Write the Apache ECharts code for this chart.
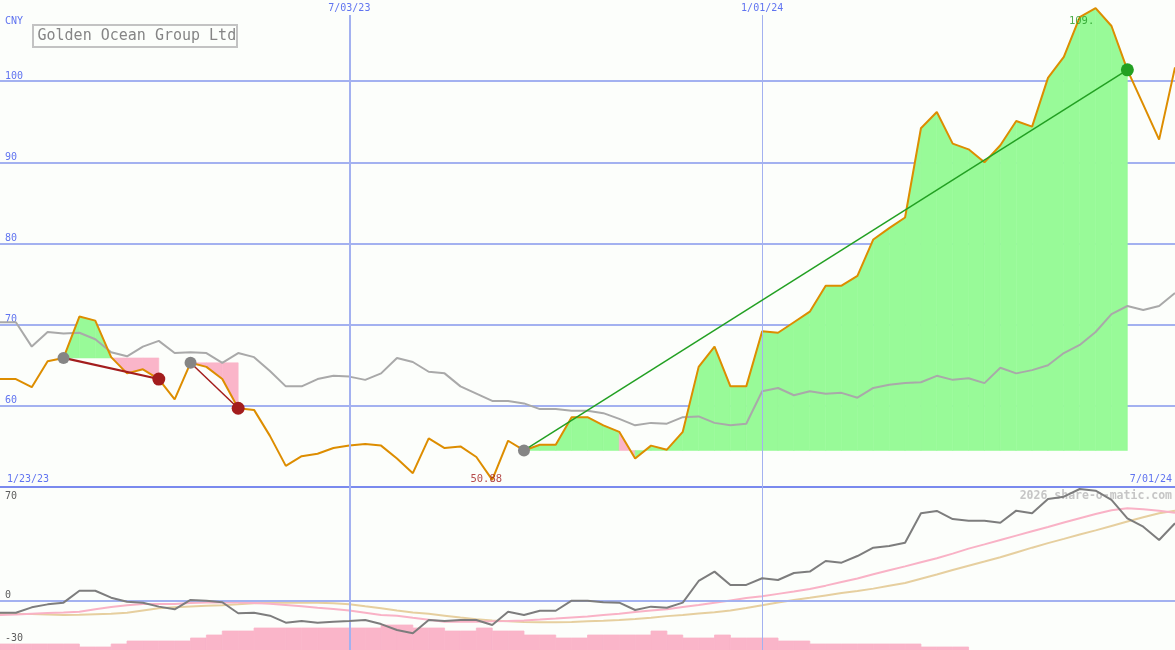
<!DOCTYPE html>
<html><head><meta charset="utf-8">
<script src="https://cdn.jsdelivr.net/npm/echarts@6/dist/echarts.min.js"></script>
<style>html,body{margin:0;padding:0;background:#fcfefb}#c{width:1175px;height:650px}</style>
</head><body><div id="c"></div><script>
// ---- data (weekly points, index 0 .. 74) ----
const price = [63.3,63.3,62.3,65.5,65.9,71.0,70.5,66.0,64.0,64.5,
  63.3,60.8,65.3,64.8,63.3,59.7,59.5,56.3,52.6,53.8,
  54.1,54.8,55.1,55.3,55.1,53.5,51.7,56.0,54.8,55.0,
  53.7,50.88,55.7,54.5,55.2,55.2,58.6,58.6,57.6,56.8,
  53.5,55.1,54.6,56.8,64.8,67.3,62.4,62.4,69.2,69.0,
  70.3,71.6,74.8,74.8,76.0,80.5,81.9,83.2,94.2,96.2,
  92.3,91.6,90.0,92.1,95.1,94.4,100.4,103.0,107.9,109.0,
  106.8,101.4,97.1,92.8,101.7];
const average = [70.3,70.3,67.3,69.1,68.9,69.0,68.2,66.6,66.1,67.3,
  68.0,66.5,66.6,66.5,65.3,66.5,66.0,64.3,62.4,62.4,
  63.3,63.7,63.6,63.2,64.0,65.9,65.4,64.2,64.0,62.4,
  61.5,60.6,60.6,60.3,59.6,59.6,59.4,59.4,59.1,58.4,
  57.6,57.9,57.8,58.6,58.7,57.9,57.6,57.8,61.8,62.2,
  61.3,61.8,61.5,61.6,61.0,62.2,62.6,62.8,62.9,63.7,
  63.2,63.4,62.8,64.7,64.0,64.4,65.0,66.5,67.5,69.1,
  71.3,72.3,71.8,72.3,73.9];
const oscillator = [-8.7,-8.7,-4.9,-2.8,-1.6,6.8,6.8,1.9,-0.9,-1.6,
  -4.4,-6.3,0.3,-0.2,-1.3,-9.1,-8.7,-10.8,-15.7,-14.5,
  -15.7,-15.0,-14.5,-13.8,-16.7,-20.9,-23.2,-13.8,-14.5,-13.8,
  -13.8,-17.4,-8.0,-10.3,-7.3,-7.3,-0.2,-0.2,-1.3,-1.6,
  -6.8,-4.4,-5.2,-1.6,13.7,20.3,10.9,10.9,15.6,14.4,
  19.3,20.3,27.8,26.6,31.3,37.2,38.4,40.7,61.5,63.1,
  57.4,56.2,56.2,54.8,63.3,61.5,71.6,73.2,78.6,77.4,
  70.9,57.9,52.0,42.6,54.4];
const oscFast = [-10.3,-9.9,-9.4,-8.9,-8.5,-8.0,-6.3,-4.6,-3.5,-2.5,
  -2.5,-2.5,-1.8,-1.5,-1.3,-1.4,-1.8,-2.3,-3.2,-4.2,
  -5.2,-6.1,-7.1,-8.7,-10.3,-10.9,-12.3,-13.6,-15.0,-15.0,
  -15.0,-14.8,-14.5,-14.1,-13.5,-12.8,-12.0,-11.3,-10.3,-9.5,
  -8.2,-7.2,-6.3,-4.7,-3.3,-1.7,0.0,1.7,3.0,4.6,
  6.2,8.0,10.4,13.0,15.5,18.5,21.3,24.0,26.9,29.7,
  33.0,36.5,39.5,42.6,45.7,48.8,51.8,54.9,58.0,60.9,
  63.6,65.0,64.3,63.3,61.9];
const oscSlow = [-9.6,-9.6,-9.6,-10.0,-10.3,-10.1,-9.8,-9.5,-8.8,-7.2,
  -5.6,-4.9,-4.3,-3.8,-3.4,-2.8,-2.0,-1.6,-1.6,-1.6,
  -1.7,-2.0,-2.8,-4.2,-5.5,-7.1,-8.5,-9.5,-10.8,-12.1,
  -13.3,-14.2,-14.8,-15.3,-15.5,-15.5,-15.2,-14.7,-14.3,-13.8,
  -13.2,-12.3,-11.1,-10.3,-9.3,-8.3,-7.2,-5.4,-3.5,-1.5,
  0.3,1.8,3.5,5.2,6.6,8.3,10.3,12.3,15.3,18.3,
  21.5,24.5,27.4,30.4,33.8,37.2,40.4,43.4,46.5,49.4,
  52.5,55.6,58.7,61.5,63.3];
const volume = [6,6,6,6,6,3,3,6,9,9,
  9,9,12,15,19,19,22,22,22,22,
  22,22,22,22,25,25,22,22,19,19,
  22,19,19,15,15,12,12,15,15,15,
  15,19,15,12,12,15,12,12,12,9,
  9,6,6,6,6,6,6,6,3,3,
  3,0,0,0,0,0,0,0,0,0,
  0,0,0,0,0];
const eventStart = [4, 12, 33];
const eventEnd = [10, 15, 71];
const dateTickIndex = [22, 48];
const dateTickLabels = ['7/03/23', '1/01/24'];
const rangeLabels = ['1/23/23', '7/01/24'];
const lowerTicks = [70, 0, -30];
const titleText = 'Golden Ocean Group Ltd';
const currency = 'CNY';
const watermark = '2026 share-o-matic.com';

// ---- styles ----
const MONO = "'DejaVu Sans Mono', 'Liberation Mono', monospace";
const GRID_C = '#a3b1f0', LABEL_C = '#6074f0';
const GREEN_FILL = '#98fa98', PINK_FILL = '#fab5c9';
const N = price.length - 1;
const xs = price.map((_, i) => i);

// segments for win/loss fills
const fillSegs = [];
eventStart.forEach((s, e) => {
  const b = price[s];
  for (let i = s; i < eventEnd[e]; i++) fillSegs.push([i, price[i], i + 1, price[i + 1], b]);
});

const chart = echarts.init(document.getElementById('c'), null, {renderer: 'canvas'});

const series = [];
// vertical date lines (upper)
const topY = 108.15;
series.push({
  type: 'line', xAxisIndex: 0, yAxisIndex: 0, data: [], z: 1, silent: true,
  markLine: {
    silent: true, symbol: 'none', animation: false,
    data: dateTickIndex.map((d, k) => [
      {coord: [d, 50], lineStyle: {color: GRID_C, width: k === 0 ? 2 : 1, type: 'solid'}},
      {coord: [d, topY], label: {show: true, position: 'end', formatter: dateTickLabels[k], color: LABEL_C,
        fontFamily: MONO, fontSize: 10, distance: 2}}
    ])
  }
});
// vertical date lines + zero line (lower)
series.push({
  type: 'line', xAxisIndex: 1, yAxisIndex: 1, data: [], z: 1, silent: true,
  markLine: {
    silent: true, symbol: 'none', animation: false, label: {show: false},
    data: dateTickIndex.map((d, k) => [
      {coord: [d, -35], lineStyle: {color: GRID_C, width: k === 0 ? 2 : 1, type: 'solid'}},
      {coord: [d, 80]}
    ]).concat([{yAxis: 0, lineStyle: {color: GRID_C, width: 2, type: 'solid'}}])
  }
});
// fills
series.push({
  type: 'custom', xAxisIndex: 0, yAxisIndex: 0, z: 2, silent: true,
  data: fillSegs,
  renderItem: function (params, api) {
    const x0 = api.value(0), y0 = api.value(1), x1 = api.value(2), y1 = api.value(3), b = api.value(4);
    const pts = [api.coord([x0, b]), api.coord([x0, y0]), api.coord([x1, y1]), api.coord([x1, b])];
    const col = y1 >= b ? GREEN_FILL : PINK_FILL;
    return {type: 'polygon', shape: {points: pts}, style: {fill: col, stroke: col, lineWidth: 0.6}};
  }
});
// average
series.push({type: 'line', xAxisIndex: 0, yAxisIndex: 0, z: 3, symbol: 'none',
  data: xs.map(i => [i, average[i]]), lineStyle: {color: '#a9a9a9', width: 2}});
// price
series.push({type: 'line', xAxisIndex: 0, yAxisIndex: 0, z: 4, symbol: 'none',
  data: xs.map(i => [i, price[i]]), lineStyle: {color: '#dd8d00', width: 2}});
// trend lines
eventStart.forEach((s, e) => {
  const en = eventEnd[e];
  const win = price[en] >= price[s];
  const col = win ? '#22a022' : '#a31d1d';
  series.push({
    type: 'line', xAxisIndex: 0, yAxisIndex: 0, z: 5, symbol: 'circle', showSymbol: true,
    data: [
      {value: [s, price[s]], symbolSize: 12, itemStyle: {color: '#858585'}},
      {value: [en, price[en]], symbolSize: 13, itemStyle: {color: col}}
    ],
    lineStyle: {color: col, width: e === 0 ? 2.2 : 1.5}
  });
});
// extremes labels
const minV = Math.min(...price), maxV = Math.max(...price);
const minI = price.indexOf(minV), maxI = price.indexOf(maxV);
series.push({
  type: 'scatter', xAxisIndex: 0, yAxisIndex: 0, z: 6, symbolSize: 1, itemStyle: {color: 'rgba(0,0,0,0)'},
  data: [
    {value: [minI, minV], label: {show: true, position: 'inside', offset: [-6, -1], formatter: minV.toFixed(2),
      color: '#a31d1d', fontFamily: MONO, fontSize: 10.5}},
    {value: [maxI, maxV], label: {show: true, position: 'inside', offset: [-14, 13], formatter: Math.floor(maxV) + '.',
      color: '#229a22', fontFamily: MONO, fontSize: 10.5}}
  ]
});
// volume histogram
series.push({
  type: 'custom', xAxisIndex: 1, yAxisIndex: 2, z: 2, silent: true,
  data: volume.map((v, k) => [k, v]),
  renderItem: function (params, api) {
    const k = api.value(0), v = api.value(1);
    if (!v) return null;
    const a = api.coord([k, v]), b = api.coord([k + 1, 0]);
    return {type: 'rect', shape: {x: a[0], y: a[1], width: b[0] - a[0], height: b[1] - a[1]},
      style: {fill: PINK_FILL, stroke: PINK_FILL, lineWidth: 0.8}};
  }
});
// lower lines
series.push({type: 'line', xAxisIndex: 1, yAxisIndex: 1, z: 3, symbol: 'none',
  data: xs.map(i => [i, oscSlow[i]]), lineStyle: {color: '#e6cf9f', width: 2}});
series.push({type: 'line', xAxisIndex: 1, yAxisIndex: 1, z: 4, symbol: 'none',
  data: xs.map(i => [i, oscFast[i]]), lineStyle: {color: '#f9b2c6', width: 2}});
series.push({type: 'line', xAxisIndex: 1, yAxisIndex: 1, z: 5, symbol: 'none',
  data: xs.map(i => [i, oscillator[i]]), lineStyle: {color: '#7d7d7d', width: 2}});

const option = {
  backgroundColor: '#fcfefb',
  animation: false,
  grid: [
    {left: 0, right: 0, top: 0, height: 487},
    {left: 0, right: 0, top: 487, height: 163}
  ],
  xAxis: [
    {gridIndex: 0, type: 'value', min: 0, max: N, show: false},
    {gridIndex: 1, type: 'value', min: 0, max: N, position: 'top',
      axisLine: {show: true, onZero: false, lineStyle: {color: '#7a8aee', width: 2}},
      axisTick: {show: false}, axisLabel: {show: false}, splitLine: {show: false}}
  ],
  yAxis: [
    {gridIndex: 0, type: 'value', min: 50, max: 110, interval: 10,
      axisLine: {show: false}, axisTick: {show: false},
      axisLabel: {inside: true, showMinLabel: false, showMaxLabel: false, align: 'left', verticalAlign: 'bottom',
        margin: 5, color: LABEL_C, fontFamily: MONO, fontSize: 10},
      splitLine: {show: true, lineStyle: {color: ['rgba(0,0,0,0)', GRID_C, GRID_C, GRID_C, GRID_C, GRID_C, 'rgba(0,0,0,0)'], width: 2}}},
    {gridIndex: 1, type: 'value', min: -35, max: 80,
      axisLine: {show: false}, axisTick: {show: false}, splitLine: {show: false},
      axisLabel: {inside: true, customValues: lowerTicks, align: 'left', verticalAlign: 'bottom',
        margin: 5, color: '#5c5c5c', fontFamily: MONO, fontSize: 10}},
    {gridIndex: 1, type: 'value', min: 0, max: 163, show: false}
  ],
  graphic: [
    {type: 'text', left: 5, top: 16, z: 10, style: {text: currency, fill: LABEL_C, font: '10px ' + MONO}},
    {type: 'rect', z: 10, shape: {x: 33, y: 25, width: 204, height: 22},
      style: {fill: '#fcfefb', stroke: '#c3c3c3', lineWidth: 2}},
    {type: 'text', z: 11, x: 37.5, y: 36, style: {text: titleText, fill: '#858585', font: '15px ' + MONO,
      verticalAlign: 'middle', align: 'left'}},
    {type: 'text', z: 10, x: 7, y: 479, style: {text: rangeLabels[0], fill: LABEL_C, font: '10px ' + MONO,
      verticalAlign: 'middle', align: 'left'}},
    {type: 'text', z: 10, x: 1172, y: 479, style: {text: rangeLabels[1], fill: LABEL_C, font: '10px ' + MONO,
      verticalAlign: 'middle', align: 'right'}},
    {type: 'text', z: 1, x: 1172, y: 496, style: {text: watermark, fill: '#c6c6c6', font: 'bold 11.5px ' + MONO,
      verticalAlign: 'middle', align: 'right'}}
  ],
  series: series
};
chart.setOption(option);
</script></body></html>
